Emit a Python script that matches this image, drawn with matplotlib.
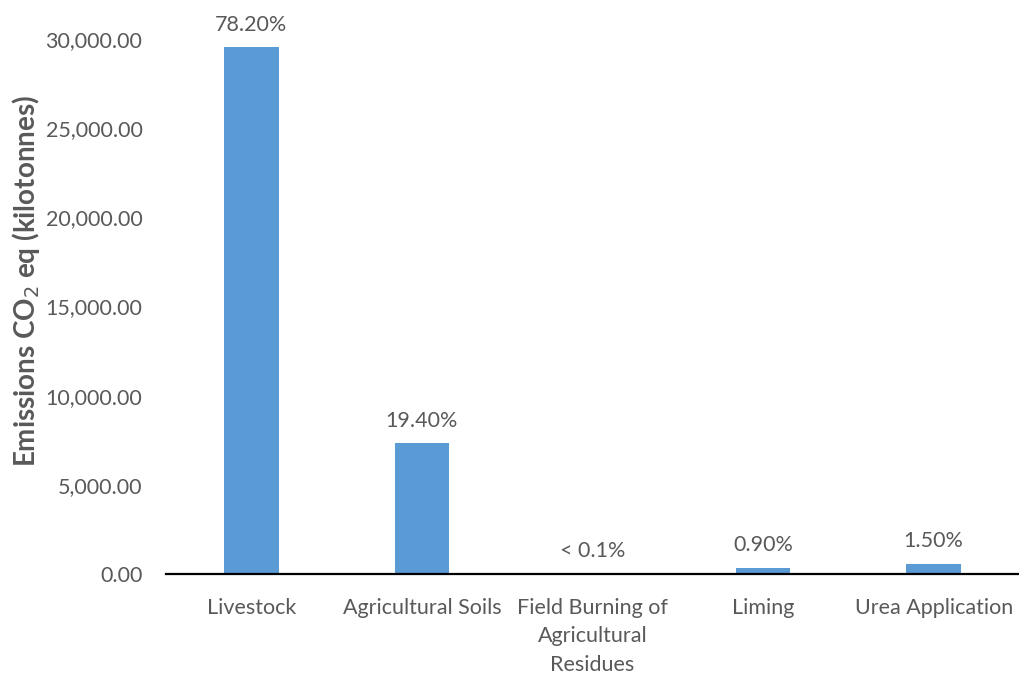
import matplotlib
matplotlib.use("Agg")
import matplotlib.pyplot as plt
from matplotlib.ticker import FuncFormatter

categories = ["Livestock", "Agricultural Soils", "Field Burning of\nAgricultural\nResidues",
              "Liming", "Urea Application"]
emissions = [29550, 7330, 20, 340, 565]
share_labels = ["78.20%", "19.40%", "< 0.1%", "0.90%", "1.50%"]
y_ticks = [0, 5000, 10000, 15000, 20000, 25000, 30000]

plt.rcParams["font.family"] = ["Lato", "DejaVu Sans"]
text_color = "#595959"
fs = 15.5

fig = plt.figure(figsize=(10.2, 6.75), dpi=100)
ax = fig.add_axes([166 / 1020, 1 - 574 / 675, (1019 - 166) / 1020, (574 - 39) / 675])

x = range(len(categories))
bars = ax.bar(x, emissions, width=0.32, color="#5B9BD5", zorder=2)

for bar, lab in zip(bars, share_labels):
    ax.annotate(lab, (bar.get_x() + bar.get_width() / 2, bar.get_height()),
                xytext=(0, 9), textcoords="offset points", ha="center", va="bottom",
                fontsize=fs, color=text_color, clip_on=False)

ax.set_xlim(-0.5, len(categories) - 0.5)
ax.set_ylim(0, 30000)
ax.set_yticks(y_ticks)
ax.yaxis.set_major_formatter(FuncFormatter(lambda v, p: f"{v:,.2f}"))
ax.set_xticks(list(x))
ax.set_xticklabels(categories, linespacing=1.55)

ax.tick_params(axis="y", length=0, pad=17, labelsize=fs, labelcolor=text_color)
ax.tick_params(axis="x", length=0, pad=17, labelsize=fs, labelcolor=text_color)

for side in ["top", "right", "left"]:
    ax.spines[side].set_visible(False)
ax.spines["bottom"].set_color("black")
ax.spines["bottom"].set_linewidth(1.6)
ax.spines["bottom"].set_zorder(3)

fig.text(26 / 1020, 1 - 281 / 675, "Emissions CO$_2$ eq (kilotonnes)", rotation=90,
         ha="center", va="center", fontsize=20, fontweight="bold", color=text_color)

fig.savefig("out.png", dpi=100)
